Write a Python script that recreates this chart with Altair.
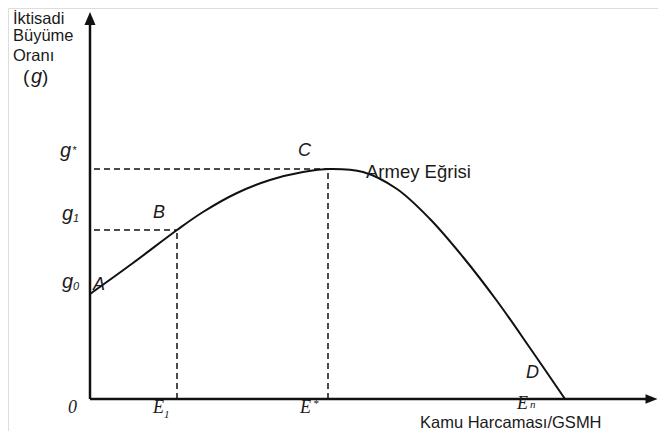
import altair as alt
import pandas as pd

# ---- data (x: spending share units, y: growth units; origin at axes crossing) ----
curve_x = [0, 43, 87, 113, 147, 180, 213, 240, 273, 307, 340, 373, 407, 440, 475]
curve_y = [105, 136, 169, 187, 206, 219, 227, 230, 227, 210, 180, 142, 98, 51, 0]

E_vals = [87, 238]      # E1, E*
g_vals = [169, 230]     # g1, g*

# ---- annotation texts ----
big_italic_text = ["A", "B", "C", "D"]
big_italic_x = [3, 63, 208, 436]
big_italic_y = [114, 186, 248, 26]

g_text = ["g", "g", "g", "g"]
g_x = [-30, -28, -28, -59]
g_y = [248, 185, 117, 322]

sub_italic_text = ["*", "1", "0"]
sub_italic_x = [-18, -17, -17]
sub_italic_y = [248, 180, 112]

serif_text = ["E", "E", "E"]
serif_x = [63, 210, 427]
serif_y = [-8.5, -9, -5]

origin_text = ["0"]
origin_x = [-22]
origin_y = [-8.5]

serif_sub_text = ["1", "*", "n"]
serif_sub_x = [74, 223, 440]
serif_sub_y = [-16, -5, -5.5]

plain_text = ["Kamu Harcaması/GSMH", "İktisadi", "Büyüme", "Oranı"]
plain_x = [330, -77, -77, -77]
plain_y = [-23.5, 380, 363, 343]

curve_label = ["Armey Eğrisi"]
curve_label_x = [276]
curve_label_y = [227]

paren_text = ["(", ")"]
paren_x = [-67, -48]
paren_y = [322, 322]

X0, X1 = -82, 568
Y0, Y1 = -32, 391
W, H = X1 - X0, Y1 - Y0

xs = alt.Scale(domain=[X0, X1], nice=False, zero=False)
ys = alt.Scale(domain=[Y0, Y1], nice=False, zero=False)


def X(f="x"):
    return alt.X(f"{f}:Q", scale=xs, axis=None)


def Y(f="y"):
    return alt.Y(f"{f}:Q", scale=ys, axis=None)


ink = "#111111"

curve_df = pd.DataFrame({"x": curve_x, "y": curve_y})
curve = alt.Chart(curve_df).mark_line(color=ink, strokeWidth=2, interpolate="catmull-rom").encode(
    x=X(), y=Y(), order="x:Q")

hdash_df = pd.DataFrame({"x": [4, 4], "x2": E_vals, "y": g_vals})
hdash = alt.Chart(hdash_df).mark_rule(color=ink, strokeWidth=1.5, strokeDash=[6, 4]).encode(
    x=X(), x2="x2:Q", y=Y())
vdash_df = pd.DataFrame({"x": E_vals, "y": [0, 0], "y2": g_vals})
vdash = alt.Chart(vdash_df).mark_rule(color=ink, strokeWidth=1.5, strokeDash=[6, 4]).encode(
    x=X(), y=Y(), y2="y2:Q")

yaxis = alt.Chart(pd.DataFrame({"x": [0], "y": [0], "y2": [378]})).mark_rule(
    color=ink, strokeWidth=2.5).encode(x=X(), y=Y(), y2="y2:Q")
xaxis = alt.Chart(pd.DataFrame({"x": [0], "x2": [557], "y": [0]})).mark_rule(
    color=ink, strokeWidth=2.5).encode(x=X(), x2="x2:Q", y=Y())

yarrow = alt.Chart(pd.DataFrame({"x": [0], "y": [380.5]})).mark_point(
    shape="M0,-1L0.85,1L-0.85,1Z", size=169, filled=True, color=ink, opacity=1).encode(x=X(), y=Y())
xarrow = alt.Chart(pd.DataFrame({"x": [561.5], "y": [0]})).mark_point(
    shape="M1,0L-1,0.8L-1,-0.8Z", size=144, filled=True, color=ink, opacity=1).encode(x=X(), y=Y())


def texts(t, x, y, **kw):
    df = pd.DataFrame({"t": t, "x": x, "y": y})
    return alt.Chart(df).mark_text(baseline="middle", align="left", color="#1a1a1a", **kw).encode(
        x=X(), y=Y(), text="t:N")


sans = "Liberation Sans"
serif = "Liberation Serif"

layers = [
    texts(big_italic_text, big_italic_x, big_italic_y, font=sans, fontSize=18, fontStyle="italic"),
    texts(g_text, g_x, g_y, font=sans, fontSize=20, fontStyle="italic"),
    texts(sub_italic_text, sub_italic_x, sub_italic_y, font=sans, fontSize=11, fontStyle="italic"),
    texts(serif_text, serif_x, serif_y, font=serif, fontSize=18, fontStyle="italic"),
    texts(origin_text, origin_x, origin_y, font=serif, fontSize=18, fontStyle="italic"),
    texts(serif_sub_text, serif_sub_x, serif_sub_y, font=serif, fontSize=11, fontStyle="italic"),
    texts(plain_text, plain_x, plain_y, font=sans, fontSize=16.5),
    texts(curve_label, curve_label_x, curve_label_y, font=sans, fontSize=18.5),
    texts(paren_text, paren_x, paren_y, font=sans, fontSize=19),
]

chart = alt.layer(hdash, vdash, yaxis, xaxis, yarrow, xarrow, curve, *layers).properties(
    width=W, height=H, padding=0, autosize=alt.AutoSizeParams(type="none")
).configure_view(stroke=None).configure(background="white")

chart.save("out.html", embed_options={"renderer": "svg", "actions": False})
